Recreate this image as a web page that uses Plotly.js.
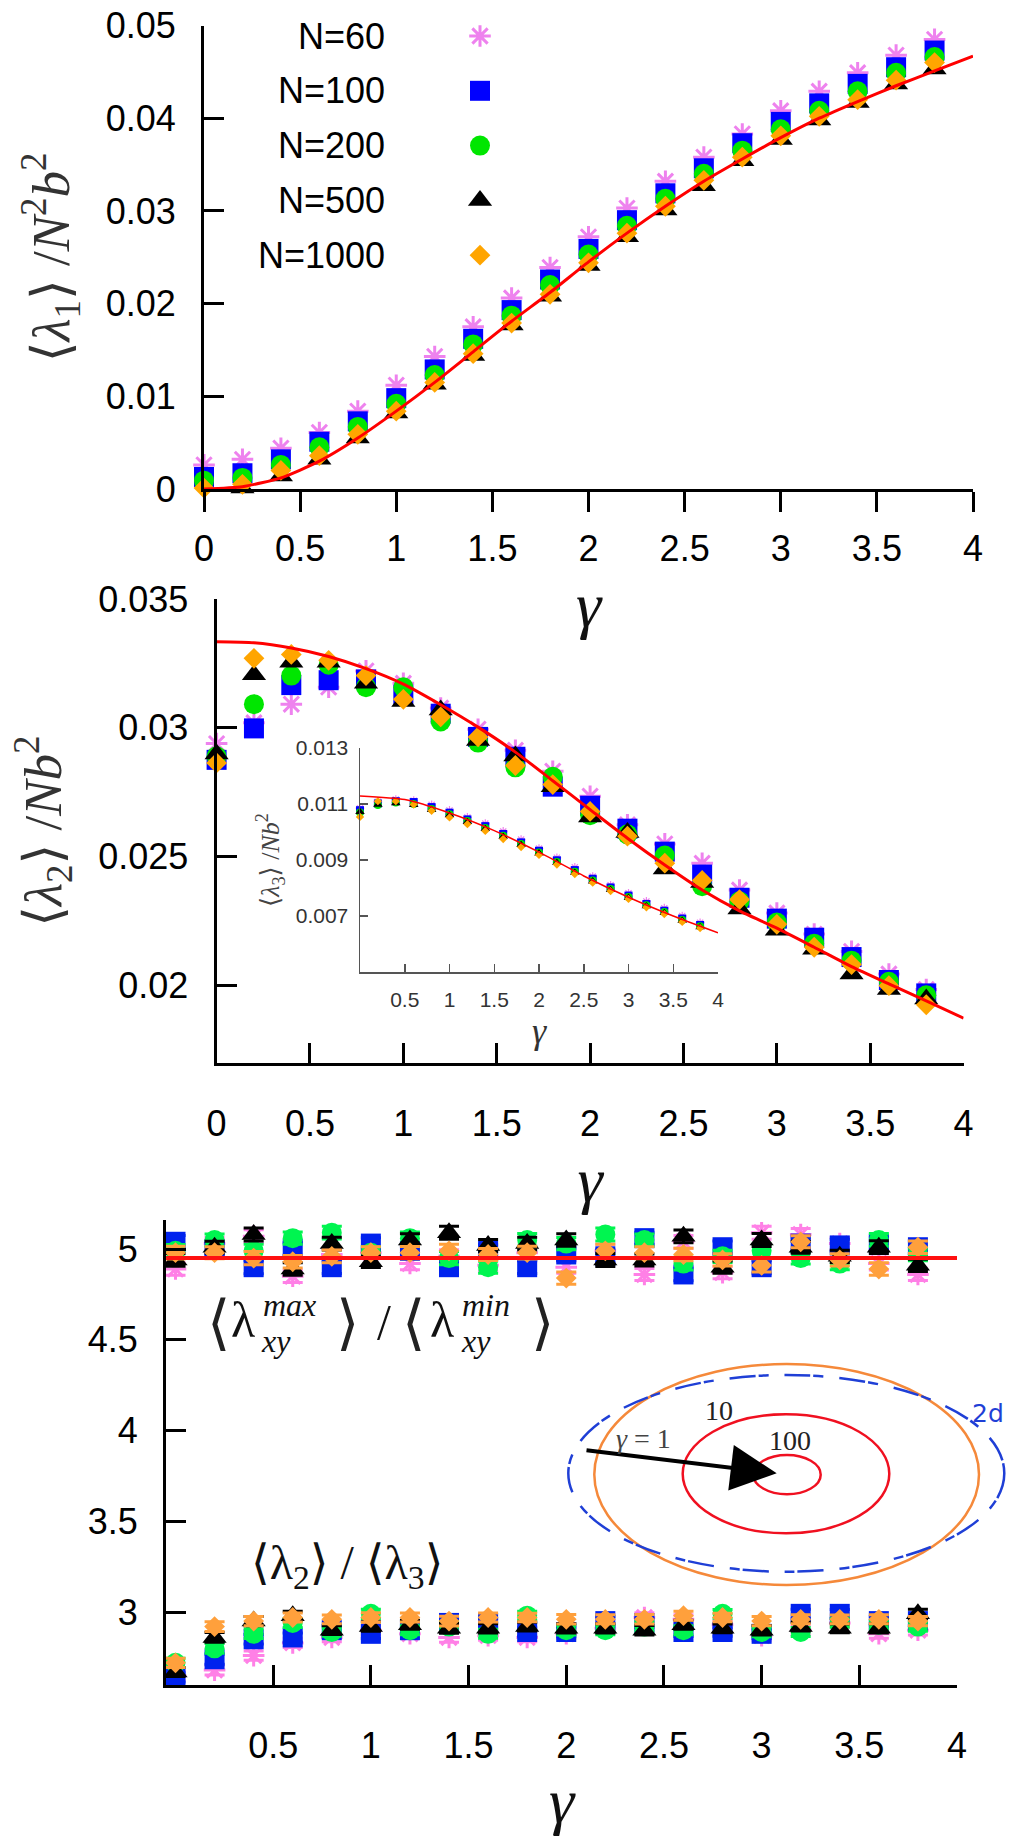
<!DOCTYPE html>
<html><head><meta charset="utf-8">
<script src="https://cdn.plot.ly/plotly-3.0.1.min.js"></script>
<style>html,body{margin:0;padding:0;background:#fff}</style>
</head><body>
<div id="chart" style="width:1023px;height:1836px"></div>
<script>
// ---------- data ----------
const gamma = [0,0.2,0.4,0.6,0.8,1.0,1.2,1.4,1.6,1.8,2.0,2.2,2.4,2.6,2.8,3.0,3.2,3.4,3.6,3.8];
const seriesNames = ['N=60','N=100','N=200','N=500','N=1000'];

// panel 1: <lambda1>/N^2b^2
const l1_N60   = [0.0026,0.0032,0.0044,0.0061,0.0084,0.0112,0.0143,0.0175,0.0206,0.0239,0.0272,0.0303,0.0332,0.0358,0.0383,0.0408,0.0429,0.0449,0.0468,0.0485];
const l1_N100  = [0.0013,0.0017,0.0032,0.0051,0.0073,0.0098,0.0129,0.0162,0.0193,0.0226,0.0259,0.0290,0.0319,0.0346,0.0373,0.0396,0.0416,0.0437,0.0455,0.0473];
const l1_N200  = [0.0009,0.0012,0.0026,0.0045,0.0067,0.0092,0.0123,0.0156,0.0187,0.0220,0.0253,0.0284,0.0313,0.0340,0.0365,0.0388,0.0408,0.0429,0.0449,0.0466];
const l1_N500  = [-0.0002,0.0001,0.0014,0.0032,0.0055,0.0082,0.0113,0.0144,0.0177,0.0208,0.0241,0.0272,0.0301,0.0327,0.0354,0.0377,0.0398,0.0417,0.0437,0.0453];
const l1_N1000 = [0.0001,0.0005,0.0020,0.0036,0.0059,0.0084,0.0115,0.0146,0.0179,0.0210,0.0244,0.0276,0.0305,0.0333,0.0358,0.0381,0.0402,0.0420,0.0441,0.0460];
const theoryX  = [0,0.2,0.4,0.6,0.8,1.0,1.2,1.4,1.6,1.8,2.0,2.2,2.4,2.6,2.8,3.0,3.2,3.4,3.6,3.8,4.0];
const l1_theory = [0,0.00025,0.0012,0.0030,0.0055,0.0084,0.0115,0.0148,0.0181,0.0212,0.0245,0.0276,0.0305,0.0332,0.0356,0.0379,0.0400,0.0418,0.0435,0.0451,0.0467];

// panel 2: <lambda2>/Nb^2
const l2_N60   = [0.02939,0.03020,0.03092,0.03158,0.03221,0.03173,0.03077,0.02995,0.02913,0.02832,0.02735,0.02624,0.02550,0.02475,0.02371,0.02282,0.02200,0.02133,0.02045,0.01985];
const l2_N100  = [0.02876,0.02998,0.03166,0.03185,0.03188,0.03129,0.03055,0.02965,0.02888,0.02772,0.02698,0.02609,0.02520,0.02431,0.02341,0.02260,0.02186,0.02111,0.02022,0.01970];
const l2_N200  = [0.02890,0.03092,0.03203,0.03245,0.03158,0.03158,0.03025,0.02943,0.02847,0.02810,0.02661,0.02587,0.02505,0.02386,0.02327,0.02245,0.02163,0.02097,0.02015,0.01963];
const l2_N500  = [0.02899,0.03206,0.03255,0.03255,0.03173,0.03102,0.03069,0.02951,0.02891,0.02772,0.02654,0.02594,0.02453,0.02400,0.02297,0.02215,0.02141,0.02045,0.01985,0.01948];
const l2_N1000 = [0.02864,0.03270,0.03285,0.03262,0.03203,0.03111,0.03043,0.02965,0.02854,0.02780,0.02676,0.02580,0.02475,0.02408,0.02334,0.02238,0.02149,0.02082,0.02000,0.01926];
const l2_theory = [0.03334,0.03330,0.03310,0.03277,0.03230,0.03170,0.03090,0.03003,0.02906,0.02795,0.02683,0.02572,0.02468,0.02371,0.02290,0.02223,0.02149,0.02074,0.02007,0.01941,0.01874];

// inset: <lambda3>/Nb^2
const l3_N60   = [0.01085,0.01108,0.01116,0.01112,0.01097,0.01077,0.01052,0.01030,0.01002,0.00973,0.00941,0.00908,0.00874,0.00841,0.00810,0.00781,0.00752,0.00728,0.00700,0.00676];
const l3_N100  = [0.01078,0.01102,0.01110,0.01107,0.01089,0.01069,0.01045,0.01021,0.00993,0.00963,0.00933,0.00899,0.00864,0.00833,0.00802,0.00773,0.00743,0.00719,0.00691,0.00668];
const l3_N200  = [0.01070,0.01096,0.01105,0.01100,0.01082,0.01063,0.01039,0.01014,0.00987,0.00957,0.00927,0.00893,0.00858,0.00827,0.00796,0.00768,0.00738,0.00714,0.00686,0.00663];
const l3_N500  = [0.01072,0.01098,0.01103,0.01097,0.01079,0.01060,0.01036,0.01011,0.00983,0.00954,0.00924,0.00890,0.00855,0.00824,0.00793,0.00765,0.00735,0.00711,0.00683,0.00660];
const l3_N1000 = [0.01054,0.01110,0.01110,0.01098,0.01076,0.01052,0.01028,0.01004,0.00975,0.00946,0.00918,0.00884,0.00850,0.00819,0.00789,0.00761,0.00731,0.00707,0.00679,0.00657];
const insetTheoryX = [0,0.5,1.0,1.5,2.0,2.5,3.0,3.5,4.0];
const l3_theory    = [0.01129,0.01116,0.01068,0.01005,0.00928,0.00843,0.00767,0.00700,0.00640];

// panel 3: ratios
const rxy_N60   = [4.89,5.03,5.07,4.85,4.97,4.98,4.92,4.96,4.91,4.98,4.90,4.99,4.86,5.04,4.87,5.09,5.08,5.03,4.92,4.86];
const rxy_N100  = [5.04,5.00,4.90,5.00,4.90,5.03,4.99,4.90,4.99,4.90,4.97,4.96,5.06,4.86,5.01,4.90,5.03,5.02,5.03,5.01];
const rxy_N200  = [4.99,5.05,4.99,5.06,5.09,4.98,5.06,4.95,4.90,5.05,5.03,5.08,5.05,4.92,4.96,4.99,4.95,4.92,5.05,4.97];
const rxy_N500  = [4.94,5.01,5.08,4.89,5.03,4.93,5.05,5.09,5.02,5.03,5.05,4.94,4.94,5.07,4.90,5.05,5.01,4.96,5.01,4.91];
const rxy_N1000 = [4.98,4.98,4.95,4.93,4.96,4.98,4.98,4.99,4.97,4.98,4.84,4.99,4.98,4.97,4.94,4.91,5.04,4.94,4.89,5.01];
const rxy_err   = [0.035,0.033,0.036,0.034,0.035,0.032,0.034,0.036,0.033,0.035,0.034,0.036,0.033,0.035,0.034,0.036,0.033,0.034,0.035,0.034];
const r23_N60   = [2.65,2.68,2.76,2.83,2.86,2.90,2.88,2.86,2.87,2.86,2.88,2.91,2.97,2.96,2.93,2.87,2.90,2.94,2.88,2.90];
const r23_N100  = [2.64,2.74,2.85,2.86,2.90,2.88,2.90,2.94,2.94,2.89,2.89,2.95,2.94,2.89,2.89,2.88,2.99,2.99,2.95,2.95];
const r23_N200  = [2.72,2.80,2.88,2.94,2.89,2.99,2.90,2.92,2.88,2.98,2.90,2.90,2.92,2.90,2.99,2.89,2.89,2.94,2.93,2.92];
const r23_N500  = [2.67,2.86,2.95,2.98,2.90,2.92,2.93,2.91,2.91,2.92,2.91,2.91,2.90,2.93,2.91,2.90,2.92,2.91,2.91,2.99];
const r23_N1000 = [2.72,2.92,2.95,2.97,2.96,2.97,2.97,2.95,2.97,2.97,2.96,2.96,2.96,2.98,2.97,2.95,2.96,2.96,2.96,2.95];
const r23_err   = [0.025,0.027,0.026,0.025,0.024,0.026,0.025,0.027,0.025,0.024,0.026,0.025,0.026,0.025,0.024,0.026,0.025,0.024,0.025,0.026];
const ratioTheoryX = [-0.048,4.0];
const rxy_theory   = [4.95,4.95];

// tick values / labels
const gTicks = [0,0.5,1,1.5,2,2.5,3,3.5,4];
const gTickText = ['0','0.5','1','1.5','2','2.5','3','3.5','4'];
const gTicksNo0 = [0.5,1,1.5,2,2.5,3,3.5,4];
const gTickTextNo0 = ['0.5','1','1.5','2','2.5','3','3.5','4'];
const y1Ticks = [0,0.01,0.02,0.03,0.04,0.05];
const y1TickText = ['0','0.01','0.02','0.03','0.04','0.05'];
const y2Ticks = [0.02,0.025,0.03,0.035];
const y2TickText = ['0.02','0.025','0.03','0.035'];
const y4Ticks = [0.007,0.009,0.011,0.013];
const y4TickText = ['0.007','0.009','0.011','0.013'];
const y3Ticks = [3,3.5,4,4.5,5];
const y3TickText = ['3','3.5','4','4.5','5'];

// ---------- styles ----------
const W = 1023, H = 1836;
const px = p => p / W;
const py = p => 1 - p / H;
const sty = [
  {symbol:'asterisk-open', color:'#ee82ee', size:18, lw:3},
  {symbol:'square',        color:'#0000ff', size:20, lw:0},
  {symbol:'circle',        color:'#00e600', size:20, lw:0},
  {symbol:'triangle-up',   color:'#000000', size:21, lw:0},
  {symbol:'diamond',       color:'#ffa500', size:16, lw:0}
];
const sty3 = ['#ff80e6','#0022ee','#00f550','#000000','#ffa03c'];

function pts(x, y, xa, ya, i, scale, colorOverride, err) {
  const s = sty[i];
  const c = colorOverride || s.color;
  const t = {
    type:'scatter', mode:'markers', x:x, y:y, xaxis:xa, yaxis:ya, name:seriesNames[i],
    showlegend:false, cliponaxis:false, hoverinfo:'skip',
    marker:{symbol:s.symbol, size:s.size*scale, color:c, line:{width:s.lw*scale, color:c}}
  };
  if (err) t.error_y = {type:'data', array:err, visible:true, color:c, thickness:3, width:10};
  return t;
}
function curve(x, y, xa, ya, w) {
  return {type:'scatter', mode:'lines', x:x, y:y, xaxis:xa, yaxis:ya, showlegend:false,
          hoverinfo:'skip', cliponaxis:false, line:{color:'#ff0000', width:w, shape:'spline', smoothing:0.6}};
}

const p1 = [l1_N60,l1_N100,l1_N200,l1_N500,l1_N1000];
const p2 = [l2_N60,l2_N100,l2_N200,l2_N500,l2_N1000];
const p3 = [l3_N60,l3_N100,l3_N200,l3_N500,l3_N1000];
const pu = [rxy_N60,rxy_N100,rxy_N200,rxy_N500,rxy_N1000];
const pl = [r23_N60,r23_N100,r23_N200,r23_N500,r23_N1000];

const traces = [];
p1.forEach((y,i)=>traces.push(pts(gamma,y,'x','y',i,1)));
traces.push(curve(theoryX,l1_theory,'x','y',3));
p3.forEach((y,i)=>traces.push(pts(gamma,y,'x4','y4',i,0.4)));
traces.push(curve(insetTheoryX,l3_theory,'x4','y4',1.5));
p2.forEach((y,i)=>traces.push(pts(gamma,y,'x2','y2',i,1)));
traces.push(curve(theoryX,l2_theory,'x2','y2',3));
pl.forEach((y,i)=>traces.push(pts(gamma,y,'x3','y3',i,1,sty3[i],r23_err)));
pu.forEach((y,i)=>traces.push(pts(gamma,y,'x3','y3',i,1,sty3[i],rxy_err)));
traces.push({type:'scatter',mode:'lines',x:ratioTheoryX,y:rxy_theory,xaxis:'x3',yaxis:'y3',showlegend:false,hoverinfo:'skip',cliponaxis:false,line:{color:'#ff1010',width:4}});
// legend markers (hidden category axis, labels on the left as in the reference)
seriesNames.forEach((n,i)=>traces.push(pts([0],[n],'x5','y5',i,1)));

// ---------- layout ----------
const tickFont = {family:'Liberation Sans, Arial, sans-serif', size:36, color:'#000'};
const serif = 'Liberation Serif, DejaVu Serif, serif';
function ax(extra) {
  return Object.assign({showgrid:false, zeroline:false, showline:true, linecolor:'#000', linewidth:3,
    ticks:'inside', ticklen:20, tickwidth:3, tickcolor:'#000', tickfont:tickFont, tickmode:'array', fixedrange:true}, extra);
}
const gTitle = {text:'<i>γ</i>', font:{family:serif, size:64, color:'#111'}};
const big = {family:serif, size:50, color:'#111'};
const brk = {family:'DejaVu Serif, serif', size:60, color:'#222'};
const scr = {family:serif, size:32, color:'#111'};
function txt(x, y, t, f, xanchor) {
  return {xref:'paper', yref:'paper', x:px(x), y:py(y), text:t, showarrow:false, font:f,
          xanchor:xanchor||'center', yanchor:'middle'};
}

const layout = {
  width:W, height:H, margin:{l:0,r:0,t:0,b:0}, paper_bgcolor:'#fff', plot_bgcolor:'rgba(0,0,0,0)',
  showlegend:false,
  xaxis: ax({domain:[px(204),px(973)], range:[0,4], anchor:'y', ticks:'outside', tickvals:gTicks, ticktext:gTickText,
            ticklabelstandoff:6, title:Object.assign({standoff:4}, gTitle)}),
  yaxis: ax({domain:[py(489),py(25.5)], range:[0,0.05], anchor:'x', tickvals:y1Ticks, ticktext:y1TickText, ticklabelstandoff:18,
            title:{text:'⟨<i>λ</i><sub>1</sub>⟩ /<i>N</i><sup>2</sup><i>b</i><sup>2</sup>', font:{family:serif, size:53, color:'#333'}, standoff:20}}),
  xaxis2: ax({domain:[px(216.6),px(963.6)], range:[0,4], anchor:'y2', tickvals:gTicks, ticktext:gTickText, ticklabelstandoff:27,
            title:Object.assign({standoff:6}, gTitle)}),
  yaxis2: ax({domain:[py(1063),py(599)], range:[0.017,0.035], anchor:'x2', tickvals:y2Ticks, ticktext:y2TickText, ticklabelstandoff:18,
            title:{text:'⟨<i>λ</i><sub>2</sub>⟩ /<i>Nb</i><sup>2</sup>', font:{family:serif, size:53, color:'#333'}, standoff:20}}),
  xaxis3: ax({domain:[px(166),px(957)], range:[-0.0486,4], anchor:'y3', tickvals:gTicksNo0, ticktext:gTickTextNo0, ticklabelstandoff:27,
            title:Object.assign({standoff:6}, gTitle)}),
  yaxis3: ax({domain:[py(1685),py(1220)], range:[2.598,5.16], anchor:'x3', tickvals:y3Ticks, ticktext:y3TickText, ticklabelstandoff:18}),
  xaxis4: ax({domain:[px(360),px(718)], range:[0,4], anchor:'y4', linecolor:'#555', linewidth:1.5, tickcolor:'#555', tickwidth:1.5, ticklen:8,
            tickvals:gTicksNo0, ticktext:gTickTextNo0, tickfont:{family:'Liberation Sans, Arial, sans-serif', size:21, color:'#333'}, ticklabelstandoff:8,
            title:{text:'<i>γ</i>', font:{family:serif, size:36, color:'#333'}, standoff:4}}),
  yaxis4: ax({domain:[py(972),py(748)], range:[0.005,0.013], anchor:'x4', linecolor:'#555', linewidth:1.5, tickcolor:'#555', tickwidth:1.5, ticklen:8,
            tickvals:y4Ticks, ticktext:y4TickText, tickfont:{family:'Liberation Sans, Arial, sans-serif', size:21, color:'#333'}, ticklabelstandoff:6,
            title:{text:'⟨<i>λ</i><sub>3</sub>⟩ /<i>Nb</i><sup>2</sup>', font:{family:serif, size:26, color:'#444'}, standoff:8}}),
  xaxis5: {domain:[px(388),px(572)], range:[-1,1], anchor:'y5', visible:false, fixedrange:true},
  yaxis5: {domain:[py(282.6),py(8.6)], type:'category', categoryarray:seriesNames, range:[4.5,-0.5], anchor:'x5',
           showline:false, showgrid:false, zeroline:false, ticks:'', tickfont:tickFont, ticklabelstandoff:2, fixedrange:true},
  shapes: [
    {type:'circle', xref:'paper', yref:'paper', x0:px(594.3), x1:px(979), y0:py(1585), y1:py(1364), line:{color:'#f5893a', width:2.5}},
    {type:'circle', xref:'paper', yref:'paper', x0:px(568.3), x1:px(1004.3), y0:py(1571.7), y1:py(1375), line:{color:'#1f3fd6', width:2.5, dash:'26px,3px,10px,16px'}},
    {type:'circle', xref:'paper', yref:'paper', x0:px(682.7), x1:px(889.3), y0:py(1533.3), y1:py(1414.3), line:{color:'#f01020', width:2.5}},
    {type:'circle', xref:'paper', yref:'paper', x0:px(753.3), x1:px(820.7), y0:py(1494.3), y1:py(1455), line:{color:'#f01020', width:2.5}}
  ],
  annotations: [
    {xref:'paper', yref:'paper', x:px(776.7), y:py(1473.3), text:'', showarrow:true, ax:-191.7, ay:-23.3,
     arrowhead:2, arrowsize:2.3, arrowwidth:4, arrowcolor:'#000'},
    txt(719, 1410, '10', {family:serif, size:28, color:'#222'}),
    txt(790, 1440, '100', {family:serif, size:28, color:'#222'}),
    txt(643, 1438, '<i>γ</i> = 1', {family:serif, size:28, color:'#444'}),
    txt(988, 1413, '2d', {family:'DejaVu Sans, sans-serif', size:25, color:'#1f3fd6'}),
    // <lambda_xy^max> / <lambda_xy^min>
    txt(218, 1322, '⟨', brk),
    txt(243, 1320, 'λ', big),
    txt(261, 1305, '<i>max</i>', scr, 'left'),
    txt(259, 1341, '<i>xy</i>', scr, 'left'),
    txt(347, 1322, '⟩', brk),
    txt(384, 1322, '/', big),
    txt(413, 1322, '⟨', brk),
    txt(442, 1320, 'λ', big),
    txt(460, 1305, '<i>min</i>', scr, 'left'),
    txt(459, 1341, '<i>xy</i>', scr, 'left'),
    txt(542, 1322, '⟩', brk),
    // <lambda2> / <lambda3>
    txt(249, 1566, '⟨λ<sub>2</sub>⟩ / ⟨λ<sub>3</sub>⟩', {family:serif, size:48, color:'#111'}, 'left')
  ]
};

Plotly.newPlot('chart', traces, layout, {displayModeBar:false, staticPlot:true});
</script>
</body></html>
